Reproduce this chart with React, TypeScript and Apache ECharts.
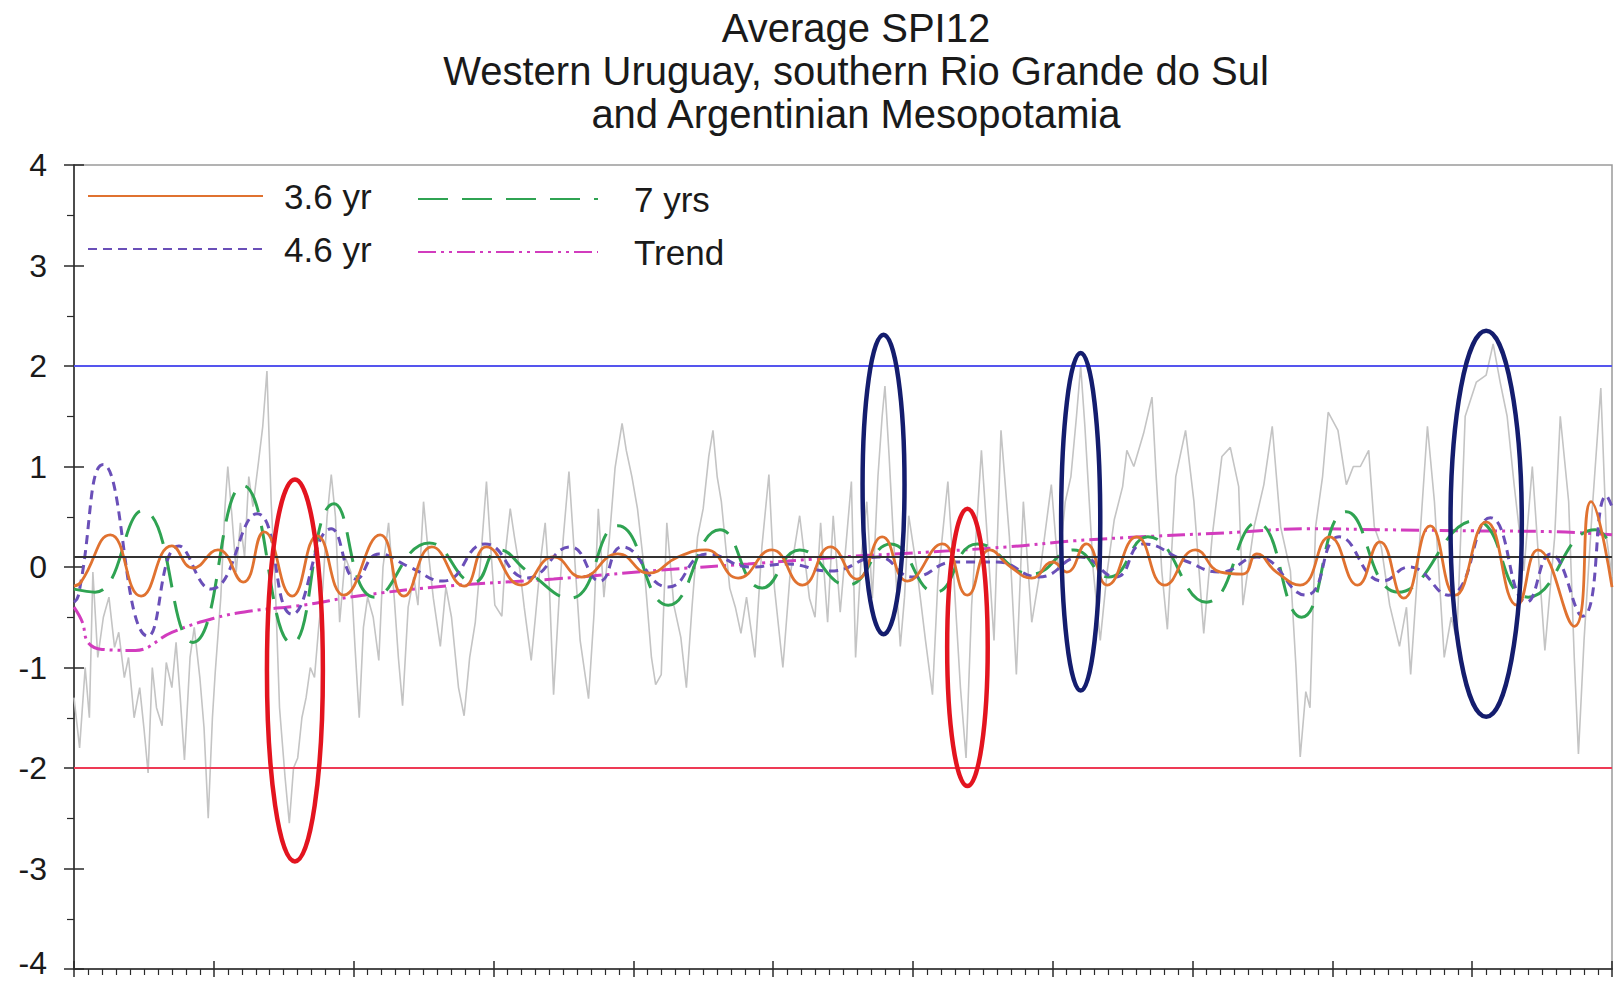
import { useEffect, useRef } from "react";
import * as echarts from "echarts";

const FONT = "'Liberation Sans', Arial, sans-serif";
const TITLE_LINES = [
  "Average SPI12",
  "Western Uruguay, southern Rio Grande do Sul",
  "and Argentinian Mesopotamia",
];
const START_YEAR = 1900;
const END_YEAR = 2010;
const Y_MIN = -4;
const Y_MAX = 4;

// [years since start, value]
const SPI12: [number, number][] = [
  [0, -1.3], [0.4, -1.8], [0.8, -1.0], [1.1, -1.5], [1.35, -0.05], [1.7, -0.9], [2.1, -0.5], [2.5, -0.3],
  [2.9, -0.8], [3.2, -0.65], [3.6, -1.1], [3.9, -0.9], [4.3, -1.5], [4.7, -1.2], [5.0, -1.6], [5.3, -2.05],
  [5.6, -1.0], [5.9, -1.4], [6.3, -1.58], [6.6, -0.95], [7.0, -1.2], [7.3, -0.75], [7.6, -1.3], [7.9, -1.92],
  [8.3, -0.9], [8.6, -0.6], [9.0, -1.1], [9.3, -1.6], [9.6, -2.5], [9.9, -1.5], [10.1, -1.05], [10.5, -0.3],
  [10.8, 0.6], [11.0, 1.0], [11.3, 0.5], [11.6, -0.05], [11.9, 0.44], [12.2, 0.1], [12.5, 0.9], [12.8, 0.6],
  [13.2, 1.05], [13.5, 1.4], [13.8, 1.95], [14.1, 0.65], [14.4, -0.2], [14.7, -1.4], [15.1, -2.1], [15.4, -2.55],
  [15.7, -2.0], [16.0, -1.9], [16.3, -1.5], [16.6, -1.3], [16.9, -1.0], [17.2, -1.1], [17.5, -0.6], [17.8, -0.2],
  [18.1, 0.5], [18.4, 0.92], [18.7, 0.5], [19.0, -0.55], [19.4, 0.1], [19.8, -0.05], [20.1, -0.8], [20.4, -1.5],
  [20.7, -0.6], [21.0, -0.3], [21.4, -0.5], [21.8, -0.93], [22.1, 0.0], [22.5, 0.44], [22.9, -0.3], [23.2, -0.9],
  [23.5, -1.38], [23.9, -0.4], [24.3, -0.1], [24.6, -0.38], [25.0, 0.65], [25.3, 0.2], [25.7, -0.31], [26.2, -0.79],
  [26.6, -0.2], [27.0, -0.5], [27.5, -1.2], [27.9, -1.48], [28.3, -0.9], [28.7, -0.55], [29.1, 0.1], [29.5, 0.85],
  [29.8, 0.2], [30.1, -0.38], [30.6, -0.49], [30.9, 0.2], [31.2, 0.58], [31.5, 0.3], [31.9, -0.04], [32.2, -0.4],
  [32.7, -0.93], [33.0, -0.5], [33.4, 0.1], [33.7, 0.44], [34.0, -0.2], [34.3, -1.27], [34.7, -0.3], [35.0, 0.3],
  [35.4, 0.95], [35.8, 0.1], [36.2, -0.73], [36.8, -1.31], [37.2, -0.45], [37.5, 0.58], [37.9, -0.3], [38.3, 0.3],
  [38.7, 0.99], [39.2, 1.43], [39.5, 1.16], [39.9, 0.9], [40.3, 0.58], [40.8, -0.04], [41.3, -0.9], [41.6, -1.17],
  [42.0, -1.07], [42.4, 0.44], [42.9, -0.38], [43.4, -0.7], [43.8, -1.2], [44.2, -0.4], [44.6, 0.3], [45.0, 0.58],
  [45.4, 1.1], [45.7, 1.36], [46.0, 0.9], [46.3, 0.65], [46.9, -0.21], [47.3, -0.4], [47.7, -0.66], [48.1, -0.3],
  [48.7, -0.9], [49.2, 0.2], [49.7, 0.92], [50.1, -0.21], [50.7, -1.0], [51.2, -0.1], [51.9, 0.51], [52.6, -0.31],
  [53.0, -0.5], [53.4, 0.44], [53.9, -0.55], [54.3, 0.51], [54.8, -0.45], [55.2, 0.2], [55.6, 0.85], [55.9, -0.9],
  [56.3, 0.1], [56.7, 0.65], [57.1, -0.31], [57.5, 0.9], [57.8, 1.5], [58.0, 1.8], [58.3, 1.1], [58.6, 0.3],
  [59.1, -0.79], [59.4, -0.3], [59.7, 0.51], [60.3, -0.04], [60.9, -0.73], [61.4, -1.27], [61.8, -0.1], [62.1, 0.3],
  [62.5, 0.85], [62.9, -0.04], [63.4, -1.2], [63.8, -1.9], [64.2, -0.38], [64.6, 0.5], [64.9, 1.16], [65.4, 0.13],
  [65.8, -0.73], [66.3, 1.36], [66.9, 0.3], [67.4, -1.07], [67.9, 0.65], [68.5, -0.55], [69.1, -0.04], [69.9, 0.82],
  [70.4, -0.04], [70.9, 0.65], [71.3, 0.9], [71.7, 1.5], [72.0, 2.0], [72.3, 1.4], [72.9, -0.04], [73.4, -0.73],
  [73.9, -0.04], [74.4, 0.47], [75.0, 0.8], [75.3, 1.16], [75.8, 1.0], [76.5, 1.33], [77.1, 1.69], [77.4, 0.9],
  [77.8, -0.04], [78.2, -0.62], [78.8, 0.9], [79.5, 1.36], [80.1, 0.65], [80.8, -0.66], [81.4, 0.3], [82.1, 1.1],
  [82.7, 1.19], [83.3, 0.8], [83.6, -0.38], [84.4, 0.4], [85.1, 0.82], [85.7, 1.4], [86.3, 0.4], [87.0, -0.04],
  [87.4, -1.0], [87.7, -1.89], [88.1, -1.24], [88.4, -1.4], [88.8, 0.4], [89.3, 0.9], [89.7, 1.54], [90.4, 1.36],
  [91.0, 0.82], [91.5, 1.0], [92.0, 1.0], [92.6, 1.16], [93.0, 0.4], [93.5, 0.2], [94.1, -0.38], [94.8, -0.79],
  [95.3, -0.4], [95.6, -1.07], [96.1, -0.04], [96.8, 1.4], [97.3, 0.65], [98.0, -0.9], [98.5, -0.5], [98.9, -0.73],
  [99.5, 1.5], [100.3, 1.84], [101.0, 1.91], [101.5, 2.22], [102.0, 1.84], [102.5, 1.5], [103.0, 0.82], [103.7, -0.04],
  [104.3, 1.0], [105.2, -0.83], [105.9, 0.3], [106.3, 1.5], [106.9, 0.65], [107.3, -0.9], [107.6, -1.86], [108.0, -0.73],
  [108.6, 0.6], [109.2, 1.78], [109.6, 0.3], [110.0, -0.1],
];

const FILTER_36: [number, number][] = [
  [0, -0.19], [0.5, -0.15], [2.6, 0.32], [4.8, -0.29], [7.0, 0.21], [8.5, -0.01], [10.3, 0.17], [12.1, -0.15],
  [13.6, 0.35], [15.6, -0.29], [17.4, 0.31], [19.3, -0.28], [21.9, 0.32], [23.6, -0.29], [25.6, 0.2], [27.9, -0.19],
  [29.5, 0.2], [32.0, -0.18], [34.3, 0.1], [36.3, -0.1], [38.9, 0.13], [41.1, -0.06], [43.2, 0.1], [45.2, 0.17],
  [47.5, -0.11], [49.9, 0.17], [52.1, -0.18], [54.1, 0.2], [56.0, -0.12], [57.8, 0.3], [59.6, -0.14], [62.1, 0.23],
  [63.9, -0.28], [65.5, 0.17], [67.0, 0.0], [68.5, -0.11], [70.0, 0.05], [71.0, -0.05], [72.4, 0.23], [73.9, -0.18],
  [76.0, 0.3], [78.0, -0.18], [80.2, 0.17], [82.0, -0.05], [83.6, -0.07], [84.6, 0.13], [86.0, -0.05], [87.7, -0.18],
  [89.8, 0.3], [91.8, -0.18], [93.4, 0.25], [95.1, -0.31], [97.0, 0.41], [98.8, -0.28], [101.0, 0.45], [103.2, -0.38],
  [104.7, 0.17], [107.3, -0.59], [108.5, 0.65], [110.0, -0.2],
];

const FILTER_46: [number, number][] = [
  [0, -0.35], [0.3, -0.29], [2.1, 1.02], [5.3, -0.69], [7.5, 0.21], [9.8, -0.22], [13.1, 0.53], [15.6, -0.47],
  [18.4, 0.38], [20.2, -0.12], [21.8, 0.13], [24.0, 0.0], [26.4, -0.14], [29.4, 0.23], [32.4, -0.11], [35.5, 0.2],
  [37.6, -0.14], [39.2, 0.2], [42.5, -0.2], [45.3, 0.13], [48.4, 0.0], [50.9, 0.03], [54.1, -0.04], [57.5, 0.1],
  [60.0, -0.1], [63.0, 0.05], [66.0, 0.05], [69.0, -0.1], [72.0, 0.1], [74.5, -0.1], [76.5, 0.23], [79.5, 0.06],
  [82.0, -0.05], [84.6, 0.1], [88.1, -0.28], [90.5, 0.3], [93.6, -0.14], [95.5, 0.0], [98.3, -0.28], [101.3, 0.49],
  [103.9, -0.35], [105.6, 0.13], [107.9, -0.49], [109.6, 0.71], [110.0, 0.6],
];

const FILTER_7: [number, number][] = [
  [0, -0.22], [1.5, -0.25], [4.9, 0.56], [8.5, -0.75], [12.1, 0.81], [15.6, -0.76], [18.6, 0.63], [21.5, -0.3],
  [25.4, 0.24], [28.6, -0.15], [30.4, 0.17], [32.5, -0.05], [35.5, -0.31], [38.9, 0.41], [42.5, -0.38], [46.2, 0.37],
  [49.2, -0.21], [51.9, 0.17], [55.3, -0.18], [58.4, 0.23], [61.6, -0.25], [64.6, 0.23], [68.5, -0.07], [71.5, 0.17],
  [74.0, -0.1], [76.8, 0.3], [81.0, -0.35], [84.6, 0.44], [87.8, -0.5], [91.0, 0.55], [94.7, -0.25], [100.2, 0.46],
  [104.0, -0.3], [108.8, 0.37], [110.0, 0.2],
];

const TREND: [number, number][] = [
  [0, -0.4], [0.6, -0.55], [1.0, -0.75], [2.0, -0.82], [4.4, -0.83], [7.0, -0.65], [10.0, -0.51], [12.5, -0.44],
  [16.4, -0.38], [20.2, -0.29], [26.6, -0.19], [34.3, -0.12], [42.0, -0.03], [48.2, 0.03], [55.0, 0.1], [60.0, 0.14],
  [66.8, 0.2], [71.5, 0.26], [76.3, 0.3], [82.4, 0.34], [88.3, 0.38], [94.1, 0.37], [100.0, 0.36], [106.1, 0.35],
  [110.0, 0.32],
];

const WET_LEVEL = 2;
const DRY_LEVEL = -2;
const MEAN_LEVEL = 0.1;

// highlighted events (ellipses): centre, half-width (years), half-height (SPI units)
const EVENT_X = [15.8, 57.9, 63.9, 72.0, 101.0];
const EVENT_Y = [-1.03, 0.82, -0.8, 0.45, 0.43];
const EVENT_RX = [2.0, 1.5, 1.45, 1.4, 2.55];
const EVENT_RY = [1.9, 1.49, 1.38, 1.68, 1.92];
const EVENT_KIND = ["dry", "wet", "dry", "wet", "wet"];

const toYears = (arr: [number, number][]) => arr.map(([t, v]) => [START_YEAR + t, v]);

export default function App() {
  const ref = useRef<HTMLDivElement>(null);
  useEffect(() => {
    if (!ref.current) return;
    const chart = echarts.init(ref.current, undefined, { renderer: "svg" });
    const levelSeries = (name: string, level: number, color: string, width: number, z: number) => ({
      name,
      type: "line",
      data: [
        [START_YEAR, level],
        [END_YEAR, level],
      ],
      symbol: "none",
      silent: true,
      z,
      lineStyle: { color, width },
    });
    const legendBase = {
      orient: "vertical",
      padding: 0,
      itemHeight: 14,
      itemGap: 17,
      selectedMode: false,
      itemStyle: { color: "rgba(0,0,0,0)", opacity: 0, borderWidth: 0 },
    };
    const legendText = (padLeft: number) => ({
      fontSize: 35,
      fontFamily: FONT,
      color: "#1a1a1a",
      lineHeight: 36,
      padding: [0, 0, 0, padLeft],
    });
    chart.setOption({
      animation: false,
      backgroundColor: "#ffffff",
      title: {
        text: TITLE_LINES.join("\n"),
        left: 856,
        top: 6,
        padding: 0,
        textAlign: "center",
        textStyle: {
          fontSize: 40,
          fontWeight: "normal",
          lineHeight: 43,
          color: "#1a1a1a",
          fontFamily: FONT,
        },
      },
      legend: [
        {
          ...legendBase,
          left: 87,
          top: 178,
          itemWidth: 175,
          data: ["3.6 yr", "4.6 yr"],
          textStyle: legendText(16),
        },
        {
          ...legendBase,
          left: 417,
          top: 181,
          itemWidth: 180,
          data: ["7 yrs", "Trend"],
          textStyle: legendText(31),
        },
      ],
      grid: {
        left: 74,
        right: 2,
        top: 165,
        bottom: 13,
        containLabel: false,
        outerBoundsMode: "none",
        show: true,
        borderColor: "#9a9a9a",
        borderWidth: 1.5,
      },
      xAxis: [
        {
          type: "value",
          min: START_YEAR,
          max: END_YEAR,
          interval: 10,
          axisLine: { onZero: false, lineStyle: { color: "#2a2a2a", width: 1.5 } },
          axisTick: { show: true, length: 8, lineStyle: { color: "#2a2a2a", width: 1.5 } },
          minorTick: { show: true, splitNumber: 10, length: 6, lineStyle: { color: "#2a2a2a", width: 1.2 } },
          axisLabel: { show: false },
          splitLine: { show: false },
        },
        {
          type: "value",
          position: "bottom",
          min: START_YEAR,
          max: END_YEAR,
          interval: 10,
          axisLine: { show: false, onZero: false },
          axisTick: { show: true, inside: true, length: 8, lineStyle: { color: "#2a2a2a", width: 1.5 } },
          axisLabel: { show: false },
          splitLine: { show: false },
        },
      ],
      yAxis: [
        {
          type: "value",
          position: "left",
          min: Y_MIN,
          max: Y_MAX,
          interval: 1,
          axisLine: { show: true, onZero: false, lineStyle: { color: "#2a2a2a", width: 1.5 } },
          axisTick: { show: true, length: 10, lineStyle: { color: "#2a2a2a", width: 1.5 } },
          minorTick: { show: true, splitNumber: 2, length: 7, lineStyle: { color: "#2a2a2a", width: 1.2 } },
          axisLabel: {
            fontSize: 32,
            margin: 27,
            color: "#1a1a1a",
            fontFamily: FONT,
            formatter: (v: number) => (v === Y_MIN ? `{low|${v}}` : `${v}`),
            rich: {
              low: {
                fontSize: 32,
                lineHeight: 30,
                color: "#1a1a1a",
                fontFamily: FONT,
                padding: [0, 0, 12, 0],
              },
            },
          },
          splitLine: { show: false },
        },
        {
          type: "value",
          position: "left",
          min: Y_MIN,
          max: Y_MAX,
          interval: 1,
          axisLine: { show: false, onZero: false },
          axisTick: { show: true, inside: true, length: 10, lineStyle: { color: "#2a2a2a", width: 1.5 } },
          axisLabel: { show: false },
          splitLine: { show: false },
        },
      ],
      series: [
        {
          name: "SPI12",
          type: "line",
          data: toYears(SPI12),
          symbol: "none",
          silent: true,
          z: 1,
          lineStyle: { color: "#c4c4c4", width: 1.6 },
        },
        levelSeries("Wet threshold", WET_LEVEL, "#5555ee", 2, 2),
        levelSeries("Dry threshold", DRY_LEVEL, "#ee3a55", 2, 2),
        {
          name: "Trend",
          type: "line",
          data: toYears(TREND),
          symbol: "none",
          smooth: 0.4,
          z: 3,
          lineStyle: { color: "#d23cbe", width: 3, type: [18, 5, 3, 5, 3, 5] },
        },
        {
          name: "7 yrs",
          type: "line",
          data: toYears(FILTER_7),
          symbol: "none",
          smooth: 0.5,
          z: 4,
          lineStyle: { color: "#2fa352", width: 3, type: [30, 14] },
        },
        {
          name: "4.6 yr",
          type: "line",
          data: toYears(FILTER_46),
          symbol: "none",
          smooth: 0.5,
          z: 5,
          lineStyle: { color: "#6a4fb8", width: 3, type: [9, 6] },
        },
        {
          name: "3.6 yr",
          type: "line",
          data: toYears(FILTER_36),
          symbol: "none",
          smooth: 0.5,
          z: 6,
          lineStyle: { color: "#e07230", width: 2.8 },
        },
        levelSeries("Mean", MEAN_LEVEL, "#333333", 2, 7),
        {
          name: "Events",
          type: "custom",
          coordinateSystem: "cartesian2d",
          silent: true,
          clip: false,
          z: 10,
          data: EVENT_X.map((x, i) => [START_YEAR + x, EVENT_Y[i], EVENT_RX[i], EVENT_RY[i], i]),
          encode: { x: 0, y: 1 },
          renderItem: (_params: any, api: any) => {
            const c = api.coord([api.value(0), api.value(1)]);
            const s = api.size([api.value(2), api.value(3)]);
            const kind = EVENT_KIND[api.value(4) as number];
            return {
              type: "ellipse",
              shape: { cx: c[0], cy: c[1], rx: s[0], ry: s[1] },
              style: {
                fill: "none",
                stroke: kind === "dry" ? "#e3141f" : "#141d6e",
                lineWidth: 4.5,
              },
            };
          },
        },
      ],
    });
    return () => chart.dispose();
  }, []);
  return (
    <div
      ref={ref}
      style={{ position: "absolute", left: 0, top: 0, width: 1614, height: 982 }}
    />
  );
}
